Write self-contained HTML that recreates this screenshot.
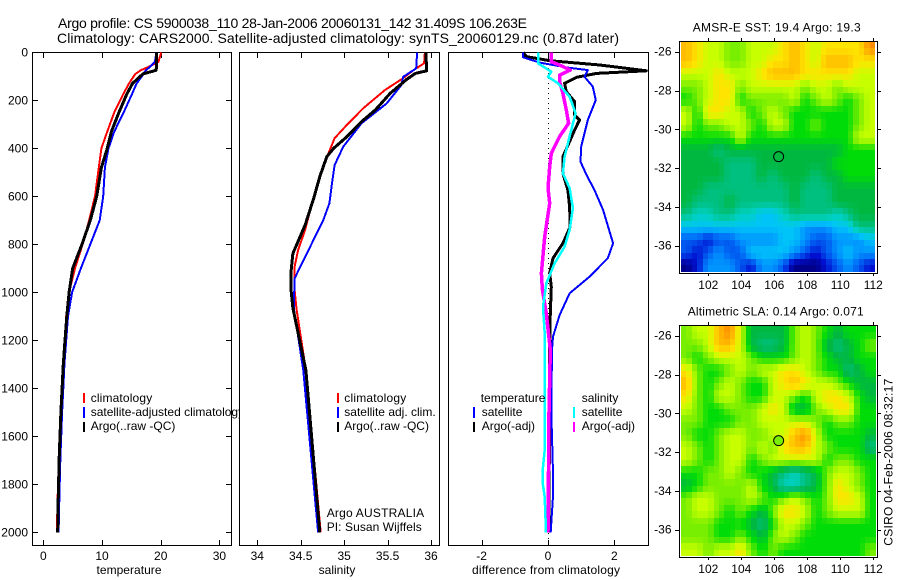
<!DOCTYPE html>
<html lang="en">
<head>
<meta charset="utf-8">
<title>Argo profile comparison</title>
<style>
html,body{margin:0;padding:0;background:#fff;}
svg{display:block;font-family:"Liberation Sans",Arial,sans-serif;font-size:12px;fill:#000;}
text{fill:#000;stroke:none;}
.frame{fill:#fff;stroke:#000;stroke-width:1;shape-rendering:crispEdges;}
.swatch{shape-rendering:crispEdges;}
</style>
</head>
<body>
<svg id="figure" width="900" height="580" viewBox="0 0 900 580" xmlns="http://www.w3.org/2000/svg">
  <rect x="0" y="0" width="900" height="580" fill="#fff"/>
  <text x="58" y="28" font-size="14" textLength="469">Argo profile: CS 5900038_110 28-Jan-2006 20060131_142 31.409S 106.263E</text>
  <text x="57" y="43" font-size="14" textLength="562">Climatology: CARS2000. Satellite-adjusted climatology: synTS_20060129.nc (0.87d later)</text>

  <g id="panel-t">
    <rect class="frame" x="32.5" y="52.5" width="199" height="493"/>
    <g id="axes-t"></g>
    <g id="lines-t"></g>
    <g>
      <rect class="swatch" x="83" y="393" width="2" height="10" fill="#f00"/>
      <text x="90.7" y="402" textLength="61.5">climatology</text>
      <rect class="swatch" x="83" y="407" width="2" height="11" fill="#00f"/>
      <text x="90.7" y="416">satellite-adjusted climatology</text>
      <rect class="swatch" x="83" y="422" width="2" height="10" fill="#000"/>
      <text x="90.7" y="430">Argo(..raw -QC)</text>
    </g>
    <text x="129" y="574" text-anchor="middle" textLength="65">temperature</text>
  </g>

  <g id="panel-s">
    <rect class="frame" x="239.5" y="52.5" width="200" height="493"/>
    <g id="axes-s"></g>
    <g id="lines-s"></g>
    <g>
      <rect class="swatch" x="337" y="393" width="2" height="10" fill="#f00"/>
      <text x="344.3" y="402" textLength="62">climatology</text>
      <rect class="swatch" x="337" y="407" width="2" height="11" fill="#00f"/>
      <text x="344.3" y="416">satellite adj. clim.</text>
      <rect class="swatch" x="337" y="422" width="2" height="10" fill="#000"/>
      <text x="344.3" y="430">Argo(..raw -QC)</text>
    </g>
    <text x="326.7" y="517" textLength="97.5">Argo AUSTRALIA</text>
    <text x="326.7" y="531" textLength="95">PI: Susan Wijffels</text>
    <text x="337" y="574" text-anchor="middle">salinity</text>
  </g>

  <g id="panel-d">
    <rect class="frame" x="448.5" y="52.5" width="200" height="493"/>
    <line x1="548.5" y1="53" x2="548.5" y2="545" stroke="#000" stroke-width="1" stroke-dasharray="1 4" shape-rendering="crispEdges"/>
    <g id="axes-d"></g>
    <g id="lines-d"></g>
    <g>
      <text x="480.7" y="402">temperature</text>
      <rect class="swatch" x="473" y="407" width="2" height="11" fill="#00f"/>
      <text x="481.7" y="416">satellite</text>
      <rect class="swatch" x="473" y="422" width="2" height="10" fill="#000"/>
      <text x="481.7" y="430">Argo(-adj)</text>
      <text x="581.7" y="402">salinity</text>
      <rect class="swatch" x="573" y="407" width="2" height="11" fill="#0ff"/>
      <text x="581.7" y="416">satellite</text>
      <rect class="swatch" x="573" y="422" width="2" height="10" fill="#f0f"/>
      <text x="581.7" y="430">Argo(-adj)</text>
    </g>
    <text x="472" y="574" textLength="148">difference from climatology</text>
  </g>

  <g id="map-sst">
    <text x="692.7" y="31.5" textLength="168">AMSR-E SST: 19.4  Argo: 19.3</text>
    <rect class="frame" x="679.5" y="41.5" width="198" height="232"/>
  </g>
  <g id="map-sla">
    <text x="687.7" y="315.5" textLength="176">Altimetric SLA: 0.14  Argo: 0.071</text>
    <rect class="frame" x="679.5" y="325.5" width="198" height="232"/>
  </g>
  <text transform="translate(892.5 545.7) rotate(-90)" textLength="167">CSIRO 04-Feb-2006 08:32:17</text>
</svg>

<script>
// ---- Profile data ----
const depthTicks = [0, 200, 400, 600, 800, 1000, 1200, 1400, 1600, 1800, 2000];
const tempTicks = [0, 10, 20, 30];
const salTicks = [34, 34.5, 35, 35.5, 36];
const diffTicks = [-2, 0, 2];

const tempDepths = [0, 40, 60, 75, 90, 100, 130, 175, 250, 330, 400, 480, 600, 700, 800, 900, 1000, 1100, 1200, 1300, 1400, 1500, 1600, 1700, 1800, 1900, 2000];
const tempClim = [20.1, 19.6, 18, 16.6, 15.7, 15.4, 14.6, 13.6, 12.1, 10.9, 9.9, 9.45, 8.8, 7.8, 6.7, 5.4, 4.4, 3.9, 3.7, 3.4, 3.15, 2.95, 2.8, 2.65, 2.5, 2.4, 2.3];
const tempSat = [19.3, 19, 18.2, 17.5, 17, 16.8, 15.9, 15.1, 13.7, 12.1, 11.1, 10.5, 10.2, 9.6, 8, 6.4, 4.9, 4.2, 3.9, 3.6, 3.4, 3.2, 3.05, 2.9, 2.8, 2.7, 2.6];
const tempArgo = [19.3, 19.3, 19.3, 19.2, 17, 16.5, 15.2, 14.2, 12.9, 11.6, 10.9, 9.9, 9.1, 8, 6.6, 5, 4.4, 4, 3.7, 3.4, 3.2, 3, 2.85, 2.7, 2.6, 2.5, 2.45];

const salClimDepths = [0, 46, 74, 108, 157, 233, 303, 358, 421, 490, 601, 740, 824, 893, 990, 1066, 1325, 2000];
const salClim = [35.93, 35.92, 35.8, 35.68, 35.47, 35.22, 35.03, 34.89, 34.82, 34.74, 34.65, 34.55, 34.47, 34.43, 34.43, 34.45, 34.56, 34.73];
const salArgoDepths = [0, 77, 88, 113, 171, 240, 289, 352, 400, 435, 518, 607, 720, 838, 907, 997, 1066, 1325, 2000];
const salArgo = [35.94, 35.95, 35.82, 35.72, 35.53, 35.36, 35.2, 35.03, 34.88, 34.8, 34.72, 34.65, 34.55, 34.41, 34.39, 34.39, 34.41, 34.56, 34.72];
const salSatDepths = [0, 67, 102, 136, 213, 296, 393, 470, 546, 629, 699, 824, 942, 1066, 1325, 2000];
const salSat = [35.84, 35.83, 35.68, 35.66, 35.49, 35.2, 34.99, 34.89, 34.86, 34.83, 34.76, 34.59, 34.43, 34.42, 34.53, 34.7];

const diffTempSatDepths = [0, 21, 43, 63, 74, 102, 143, 199, 282, 393, 456, 511, 574, 657, 796, 858, 935, 1004, 1095, 1185, 1240, 1500, 1750, 1850, 2000];
const diffTempSat = [-0.75, -0.75, -0.25, 0.55, 1.2, 1.1, 1.35, 1.44, 1.2, 1, 0.98, 1.16, 1.4, 1.66, 1.96, 1.8, 1.25, 0.65, 0.35, 0.15, 0.12, 0.1, 0.15, 0.15, 0.08];
const diffTempArgoDepths = [0, 18, 35, 53, 77, 88, 104, 129, 164, 206, 261, 282, 324, 435, 504, 574, 643, 727, 796, 858, 920, 977, 1087, 1240, 2000];
const diffTempArgo = [-0.75, -0.65, 0.05, 1.56, 2.96, 1.46, 0.86, 0.5, 0.55, 0.8, 0.8, 0.95, 0.8, 0.45, 0.45, 0.6, 0.65, 0.67, 0.45, 0.15, 0.05, 0.1, 0.07, 0.05, 0.03];
const diffSalSatDepths = [0, 46, 81, 102, 129, 185, 254, 351, 435, 504, 566, 649, 740, 810, 879, 963, 1060, 1172, 1268, 1657, 1740, 1796, 1852, 1963, 2000];
const diffSalSat = [-0.3, -0.3, 0.1, 0, 0.3, 0.65, 0.83, 0.65, 0.5, 0.45, 0.65, 0.75, 0.65, 0.5, 0.2, -0.05, -0.15, -0.1, -0.1, -0.1, -0.16, -0.16, -0.1, -0.07, -0.07];
const diffSalArgoDepths = [0, 39, 53, 74, 95, 122, 171, 240, 296, 351, 421, 476, 566, 629, 768, 920, 990, 1087, 1240, 1500, 2000];
const diffSalArgo = [0.1, 0.1, 0.35, 0.67, 0.35, 0.35, 0.45, 0.55, 0.62, 0.35, 0.1, 0.05, 0, 0.05, -0.1, -0.2, -0.17, -0.05, 0.07, 0.03, 0];

// ---- Map data (colour-level values, north to south) ----
const mapLonTicks = [102, 104, 106, 108, 110, 112];
const mapLatTicks = [-26, -28, -30, -32, -34, -36];
const profileLon = [106.263];
const profileLat = [-31.409];
const levelColors = ['#000088', '#0010d0', '#0058f0', '#0094ff', '#00c4f8', '#00d0c0', '#00c080', '#00b840', '#00dc08', '#78ee00', '#c8ff00', '#ffe400', '#ffbc00', '#ff8c00'];

const sstRows = [
 [12,11,10,10,9,9,10,10,10,11,12,11,10,11,11,11,11,13],
 [12,11,10,10,9,9,10,10,11,11,12,11,10,12,12,12,11,11],
 [10,10,10,11,10,10,10,11,12,12,12,11,11,11,11,11,10,10],
 [9,9,10,11,11,9,10,10,10,10,10,9,10,10,9,10,10,10],
 [8,9,10,11,11,8,9,9,9,9,10,8,9,10,9,8,9,10],
 [10,8,11,11,10,10,8,9,10,9,8,8,8,8,8,8,9,10],
 [10,8,9,9,10,10,9,8,10,10,8,8,9,8,8,8,9,10],
 [8,8,8,8,8,10,8,8,8,8,8,8,8,8,8,8,10,10],
 [7,7,7,6,7,7,7,7,7,7,7,7,7,7,7,8,8,8],
 [7,7,7,7,6,6,6,7,7,7,7,7,7,7,8,8,8,8],
 [7,7,7,7,6,6,6,7,6,7,7,7,6,7,7,8,8,8],
 [7,7,6,6,6,6,6,6,6,6,7,6,6,6,7,7,7,7],
 [7,6,6,6,7,6,6,6,6,6,7,6,6,6,7,7,7,7],
 [6,5,5,6,6,5,5,4,4,5,6,6,6,6,5,6,7,7],
 [4,4,4,4,4,4,4,4,4,4,4,3,3,3,4,4,6,6],
 [2,2,1,2,2,3,3,3,3,4,4,3,2,2,3,3,3,4],
 [2,1,2,3,2,2,4,4,4,4,3,2,1,2,3,4,3,3],
 [0,1,3,3,3,2,1,3,3,2,0,0,0,1,2,3,2,1]
];
const slaRows = [
 [9,10,10,12,13,10,7,7,7,7,9,10,9,8,7,8,8,8],
 [9,9,10,12,12,10,7,6,6,7,9,10,9,7,6,7,8,9],
 [9,8,9,10,10,10,9,8,8,8,9,10,9,8,7,7,8,8],
 [11,9,8,8,9,10,9,10,10,11,11,10,9,8,8,6,7,8],
 [12,9,8,9,10,9,8,8,10,11,12,11,10,10,9,8,7,7],
 [11,9,8,10,10,9,8,8,10,10,9,8,10,11,11,10,8,7],
 [10,9,8,8,9,9,9,10,11,10,7,7,9,10,11,11,8,8],
 [9,9,8,8,8,9,9,10,10,10,10,10,9,8,9,9,8,8],
 [9,8,8,9,10,10,9,9,10,10,12,13,10,8,8,8,8,7],
 [10,9,8,9,10,10,9,10,9,11,12,12,10,9,8,8,8,6],
 [10,9,8,9,10,10,8,9,10,10,10,10,10,8,9,9,8,8],
 [8,8,9,9,10,9,8,8,7,6,5,6,7,9,10,10,9,8],
 [7,8,9,9,9,9,10,8,7,5,5,6,7,9,11,10,9,8],
 [9,10,10,9,9,9,10,9,8,9,10,9,8,9,11,11,10,8],
 [9,10,10,9,8,9,8,7,9,11,11,10,8,9,10,10,10,8],
 [9,9,9,8,8,8,7,6,8,10,10,9,8,8,8,8,8,8],
 [9,9,9,8,8,9,8,7,9,10,9,8,8,8,8,8,8,8],
 [10,10,9,10,10,11,9,8,9,8,8,8,8,8,8,8,8,9]
];
const slaProfileLevel = [9];

// ---- Axis functions ----
const SVGNS = 'http://www.w3.org/2000/svg';
function linear(d0, d1, r0, r1) { return function (v) { return r0 + (v - d0) * (r1 - r0) / (d1 - d0); }; }
const yDepth = linear(0, 2000, 52.3, 532.3);
const xTemp = linear(0, 30, 43.3, 219.4);
const xSal = linear(34, 36, 257.3, 431);
const xDiff = linear(-2, 2, 481.6, 614.4);
const xLon = linear(102, 112, 708.3, 873.3);
const yLatSst = linear(-26, -36, 51.7, 245.7);
const yLatSla = linear(-26, -36, 335.7, 529.7);

function mk(tag, attrs, parent) {
  const el = document.createElementNS(SVGNS, tag);
  for (const k in attrs) el.setAttribute(k, attrs[k]);
  parent.appendChild(el);
  return el;
}
function tick(parent, x1, y1, x2, y2) {
  const el = mk('line', { x1: x1, y1: y1, x2: x2, y2: y2, stroke: '#000', 'stroke-width': 1, 'shape-rendering': 'crispEdges' }, parent);
  
  
}
function label(parent, x, y, anchor, str) {
  const el = mk('text', { x: x, y: y, 'text-anchor': anchor }, parent);
  el.textContent = str;
  
  
}
function xAxis(parent, ticks, scale) {
  ticks.forEach(function (t) {
    const x = Math.round(scale(t)) + 0.5;
    tick(parent, x, 545, x, 540);
    tick(parent, x, 53, x, 58);
    label(parent, scale(t), 560, 'middle', String(t));
  });
}
function line(parent, name, xs, ds, scale, color, width) {
  const pts = xs.map(function (v, i) { return scale(v).toFixed(1) + ',' + yDepth(ds[i]).toFixed(1); }).join(' ');
  const el = mk('polyline', { points: pts, fill: 'none', stroke: color, 'stroke-width': width, 'stroke-linejoin': 'round', 'shape-rendering': 'crispEdges' }, parent);
  
  
}
function byId(id) { return document.getElementById(id); }

// ---- Profile panels ----
depthTicks.forEach(function (d) {
  const y = Math.round(yDepth(d)) + 0.5;
  tick(byId('axes-t'), 33, y, 38, y);
  tick(byId('axes-t'), 231, y, 226, y);
  label(byId('axes-t'), 28, yDepth(d) + 4, 'end', String(d));
});
xAxis(byId('axes-t'), tempTicks, xTemp);
xAxis(byId('axes-s'), salTicks, xSal);
xAxis(byId('axes-d'), diffTicks, xDiff);

line(byId('lines-t'), 'temperature-climatology-line', tempClim, tempDepths, xTemp, '#f00', 2);
line(byId('lines-t'), 'temperature-satellite-line', tempSat, tempDepths, xTemp, '#00f', 2);
line(byId('lines-t'), 'temperature-argo-line', tempArgo, tempDepths, xTemp, '#000', 3);

line(byId('lines-s'), 'salinity-climatology-line', salClim, salClimDepths, xSal, '#f00', 2);
line(byId('lines-s'), 'salinity-satellite-line', salSat, salSatDepths, xSal, '#00f', 2);
line(byId('lines-s'), 'salinity-argo-line', salArgo, salArgoDepths, xSal, '#000', 3);

line(byId('lines-d'), 'difference-temp-argo-line', diffTempArgo, diffTempArgoDepths, xDiff, '#000', 3);
line(byId('lines-d'), 'difference-temp-satellite-line', diffTempSat, diffTempSatDepths, xDiff, '#00f', 2);
line(byId('lines-d'), 'difference-sal-argo-line', diffSalArgo, diffSalArgoDepths, xDiff, '#f0f', 3.5);
line(byId('lines-d'), 'difference-sal-satellite-line', diffSalSat, diffSalSatDepths, xDiff, '#0ff', 2.5);

// ---- Maps ----
function levelColor(level) {
  const clamped = Math.max(0, Math.min(levelColors.length - 1, level));
  const i = Math.min(levelColors.length - 2, Math.floor(clamped));
  const f = clamped - i;
  const a = levelColors[i], b = levelColors[i + 1];
  function ch(p) {
    const c0 = parseInt(a.substr(p, 2), 16), c1 = parseInt(b.substr(p, 2), 16);
    return Math.round(c0 + (c1 - c0) * f);
  }
  return 'rgb(' + ch(1) + ',' + ch(3) + ',' + ch(5) + ')';
}
// Raster sampling of the read grid: the image shows a smooth field at twice this grid's resolution.
function sampleGrid(rows, u, v) {
  const nR = rows.length, nC = rows[0].length;
  const fx = Math.max(0, Math.min(nC - 1, u * nC - 0.5));
  const fy = Math.max(0, Math.min(nR - 1, v * nR - 0.5));
  const c0 = Math.floor(fx), r0 = Math.floor(fy);
  const c1 = Math.min(nC - 1, c0 + 1), r1 = Math.min(nR - 1, r0 + 1);
  const tx = fx - c0, ty = fy - r0;
  return (rows[r0][c0] * (1 - tx) + rows[r0][c1] * tx) * (1 - ty) + (rows[r1][c0] * (1 - tx) + rows[r1][c1] * tx) * ty;
}
function heatmap(parent, rows, yScale, cellName, west, east, north, south) {
  const nR = rows.length * 2, nC = rows[0].length * 2;
  for (let r = 0; r < nR; r++) {
    for (let c = 0; c < nC; c++) {
      const x0 = Math.round(xLon(west + (east - west) * c / nC));
      const x1 = Math.round(xLon(west + (east - west) * (c + 1) / nC));
      const y0 = Math.round(yScale(north + (south - north) * r / nR));
      const y1 = Math.round(yScale(north + (south - north) * (r + 1) / nR));
      const level = sampleGrid(rows, (c + 0.5) / nC, (r + 0.5) / nR);
      const el = mk('rect', { x: x0, y: y0, width: x1 - x0, height: y1 - y0, fill: levelColor(level), 'shape-rendering': 'crispEdges' }, parent);
      
      
    }
  }
}
function mapAxes(parent, yScale, top, bottom) {
  mapLonTicks.forEach(function (t) {
    const x = Math.round(xLon(t)) + 0.5;
    tick(parent, x, top, x, top - 3);
    tick(parent, x, bottom, x, bottom + 3);
    label(parent, xLon(t), bottom + 16, 'middle', String(t));
  });
  mapLatTicks.forEach(function (t) {
    const y = Math.round(yScale(t)) + 0.5;
    tick(parent, 679, y, 675, y);
    tick(parent, 878, y, 881, y);
    label(parent, 671.5, yScale(t) + 4, 'end', String(t));
  });
}
function marker(parent, yScale, fill) {
  const el = mk('circle', { cx: xLon(profileLon[0]), cy: yScale(profileLat[0]), r: 5, fill: fill, stroke: '#000', 'stroke-width': 1 }, parent);
  
  
}
heatmap(byId('map-sst'), sstRows, yLatSst, 'sst-heatmap-cell', 100.35, 112.1, -25.5, -37.34);
mapAxes(byId('map-sst'), yLatSst, 41, 273);
marker(byId('map-sst'), yLatSst, 'none');
heatmap(byId('map-sla'), slaRows, yLatSla, 'sla-heatmap-cell', 100.35, 112.15, -25.5, -37.35);
mapAxes(byId('map-sla'), yLatSla, 325, 557);
marker(byId('map-sla'), yLatSla, levelColor(slaProfileLevel[0]));
</script>
</body>
</html>
